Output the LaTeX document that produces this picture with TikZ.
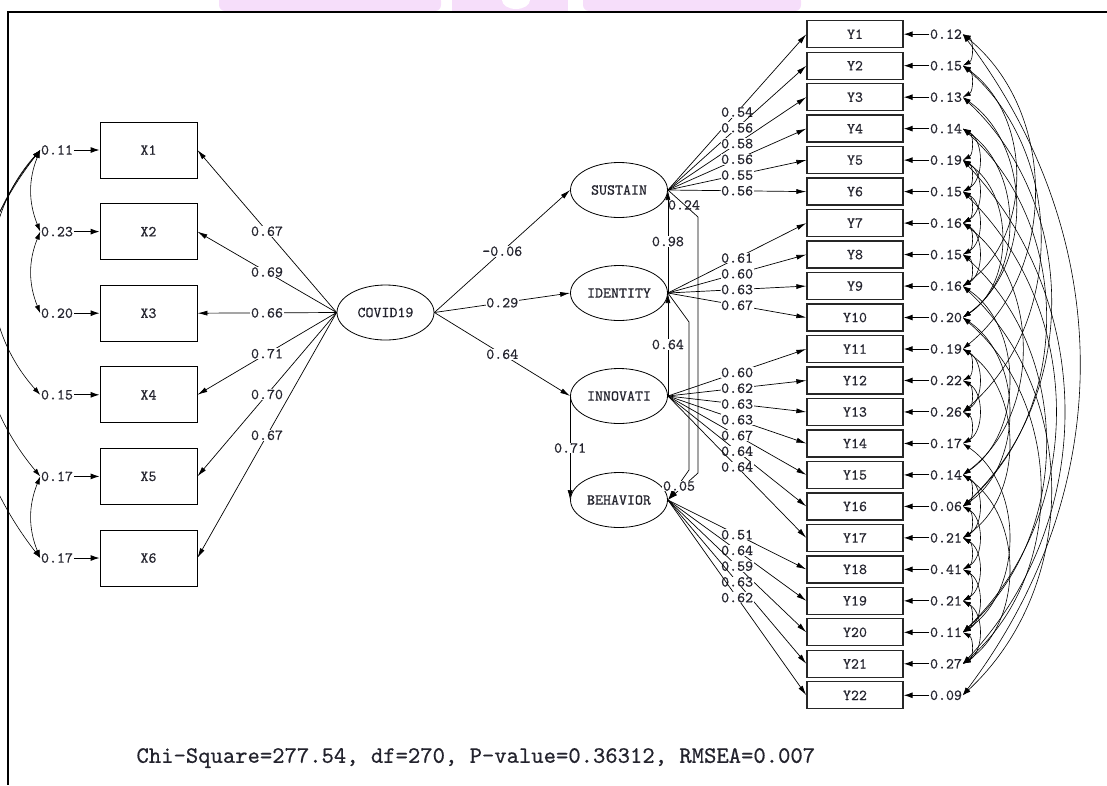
\documentclass[tikz,border=0pt]{standalone}
\usepackage{fontspec}
\newfontfamily\lisrel[FakeBold=0.6]{lmmono10-regular.otf}
\usetikzlibrary{shapes.geometric,arrows.meta}
\definecolor{wmpink}{RGB}{246,222,250}
\definecolor{txt}{RGB}{35,35,45}
\begin{document}
\begin{tikzpicture}[x=1pt,y=-1pt,
  lfont/.style={font=\lisrel\fontsize{15.2}{16}\selectfont, text=txt},
  lbl/.style={lfont, fill=white, inner sep=0.6pt},
  errlbl/.style={lfont, inner sep=0.6pt},
  lat/.style={ellipse, draw, line width=0.8pt, minimum width=97pt, minimum height=55pt, inner sep=0pt, lfont},
  obsx/.style={rectangle, draw, line width=0.8pt, minimum width=97pt, minimum height=56pt, inner sep=0pt, lfont},
  obsy/.style={rectangle, draw=black!85, line width=1.3pt, minimum width=96pt, minimum height=27pt, inner sep=0pt, lfont},
  pth/.style={-{Latex[length=10pt,width=5pt]}, line width=0.7pt},
  errarr/.style={-{Latex[length=9pt,width=6pt]}, line width=1pt},
  cov/.style={{Latex[length=8pt,width=5pt]}-{Latex[length=8pt,width=5pt]}, line width=0.6pt},
  frame/.style={line width=2pt}
]
\useasboundingbox (0,0) rectangle (1107,785);
% watermark fragment and frame
\fill[wmpink, rounded corners=6pt] (219,-5) rectangle (441,11);
\fill[wmpink] (452,-5) rectangle (568,11);
\fill[wmpink, rounded corners=6pt] (583,-5) rectangle (801,11);
\fill[white] (516,0) ellipse (14pt and 9pt);
\draw[frame] (1107,12) -- (8,12) -- (8,785);

% ---------- X side ----------
\node[lat] (cov) at (385.5,312.5) {COVID19};
\foreach \i/\e in {1/0.11,2/0.23,3/0.20,4/0.15,5/0.17,6/0.17} {
  \pgfmathsetmacro\yy{150+(\i-1)*81.6}
  \node[obsx] (x\i) at (148.5,\yy) {X\i};
  \node[errlbl] (d\i) at (57,\yy) {\e};
  \draw[errarr] (d\i.east) -- (x\i.west);
}
\foreach \i/\l in {1/0.67,2/0.69,3/0.66,4/0.71,5/0.70,6/0.67} {
  \draw[pth] (cov.west) -- node[lbl]{\l} (x\i.east);
}
\begin{scope}
\clip (0,0) rectangle (1107,785);
\draw[cov] (d1.west) to[bend right=22] (d2.west);
\draw[cov] (d2.west) to[bend right=22] (d3.west);
\draw[cov] (d5.west) to[bend right=22] (d6.west);
\draw[cov] (d1.west) to[bend right=42] (d4.west);
\draw[cov] (d1.west) to[bend right=40] (d5.west);
\draw[cov] (d1.west) to[bend right=38] (d6.west);
\end{scope}

% ---------- latent structure ----------
\node[lat] (sus) at (619,190) {SUSTAIN};
\node[lat] (ide) at (619,293) {IDENTITY};
\node[lat] (inn) at (619,396) {INNOVATI};
\node[lat] (beh) at (619,500) {BEHAVIOR};
\draw[pth] (cov.east) -- node[lbl]{-0.06} (sus.west);
\draw[pth] (cov.east) -- node[lbl]{0.29} (ide.west);
\draw[pth] (cov.east) -- node[lbl]{0.64} (inn.west);
\draw[pth] (inn.west) -- node[lbl]{0.71} (beh.west);
\draw[pth] (ide.east) -- node[lbl]{0.98} (sus.east);
\draw[pth] (inn.east) -- node[lbl]{0.64} (ide.east);
\coordinate (sa) at (698,217);
\coordinate (sb) at (698,473);
\coordinate (ia) at (689,322);
\coordinate (ib) at (689,470);
\draw[pth] (sus.east) -- (sa) -- (sb) -- (beh.east);
\draw[pth] (ide.east) -- (ia) -- (ib) -- (beh.east);
\node[errlbl] (l24) at (684,205) {0.24};
\node[lbl] (l05) at (679,486) {0.05};

% ---------- Y side ----------
\foreach \i/\e in {1/0.12,2/0.15,3/0.13,4/0.14,5/0.19,6/0.15,7/0.16,8/0.15,9/0.16,10/0.20,11/0.19,12/0.22,13/0.26,14/0.17,15/0.14,16/0.06,17/0.21,18/0.41,19/0.21,20/0.11,21/0.27,22/0.09} {
  \pgfmathsetmacro\yy{34.2+(\i-1)*31.48}
  \node[obsy] (y\i) at (855,\yy) {Y\i};
  \node[errlbl] (e\i) at (946,\yy) {\e};
  \draw[errarr] (e\i.west) -- (y\i.east);
}
\foreach \i/\f/\l in {1/sus/0.54,2/sus/0.56,3/sus/0.58,4/sus/0.56,5/sus/0.55,6/sus/0.56,
  7/ide/0.61,8/ide/0.60,9/ide/0.63,10/ide/0.67,
  11/inn/0.60,12/inn/0.62,13/inn/0.63,14/inn/0.63,15/inn/0.67,16/inn/0.64,17/inn/0.64,
  18/beh/0.51,19/beh/0.64,20/beh/0.59,21/beh/0.63,22/beh/0.62} {
  \draw[pth] (\f.east) -- node[lbl]{\l} (y\i.west);
}
% error covariances
\foreach \a/\b in {1/2,2/3,4/5,5/6,6/7,7/8,8/9,4/6,5/7,6/8,7/9,11/12,12/13,13/14,11/13,12/14,
  15/16,16/17,17/18,18/19,19/20,20/21,16/18,17/19,18/20,19/21,15/17,
  1/22,1/11,2/13,4/10,5/10,4/16,5/21,6/20,7/15,8/20,9/15,10/21,10/16,14/20,15/21,3/10,2/9,11/17,3/16,9/22} {
  \pgfmathsetmacro\ang{62-25*(\b-\a-1)/20}
  \draw[cov] (e\a.east) to[bend left=\ang] (e\b.east);
}

\node[lfont, font=\lisrel\fontsize{23.5}{25}\selectfont, anchor=west] (fit) at (133,758) {Chi-Square=277.54, df=270, P-value=0.36312, RMSEA=0.007};
\end{tikzpicture}
\end{document}
